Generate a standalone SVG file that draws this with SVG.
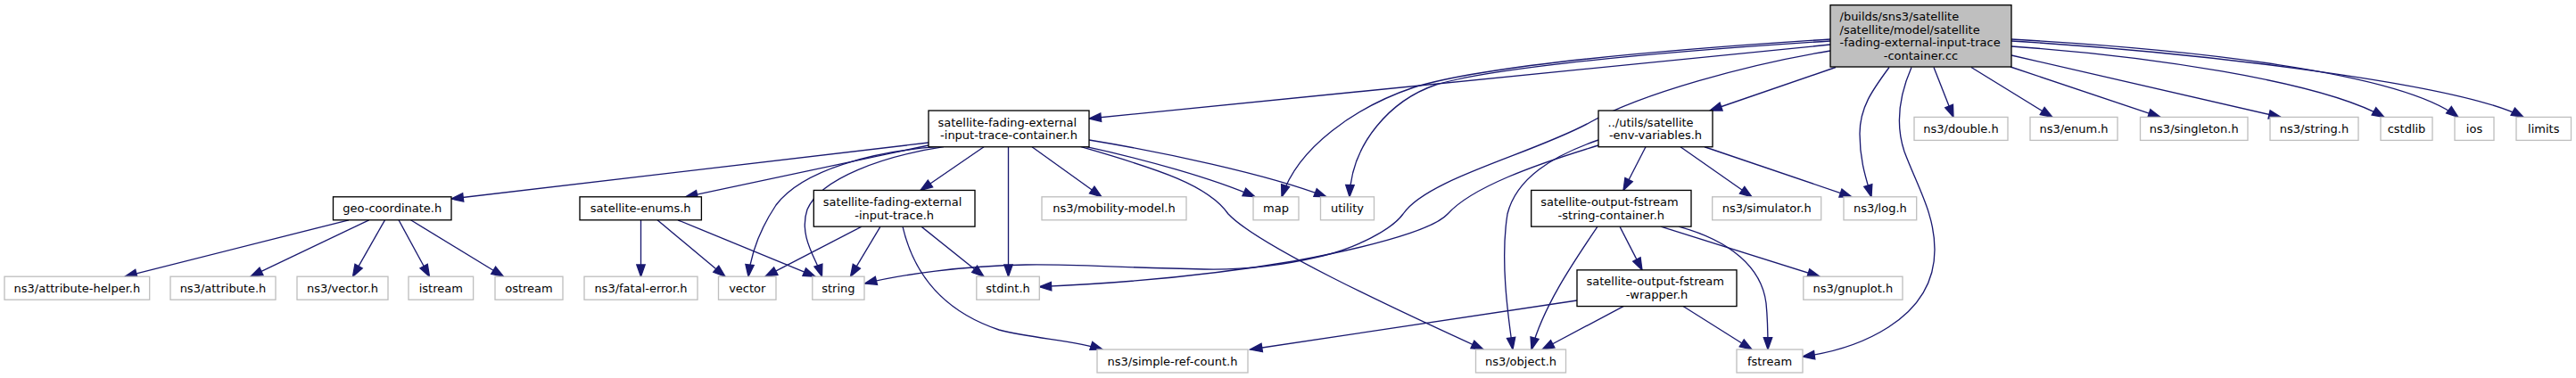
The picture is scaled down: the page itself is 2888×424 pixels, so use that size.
<svg xmlns="http://www.w3.org/2000/svg" width="2888" height="424" viewBox="0 0 2888 424">
<style>
rect{fill:#fff;stroke:#000;stroke-width:1.33}
.x rect{stroke:#bfbfbf}
.r rect{fill:#bfbfbf}
text{font-family:"DejaVu Sans","Liberation Sans",sans-serif;font-size:13px;fill:#000}
.m{text-anchor:middle}
#edges path{fill:none;stroke:#191970;stroke-width:1.33;marker-end:url(#a)}
</style>
<defs>
<marker id="a" markerUnits="userSpaceOnUse" markerWidth="16" markerHeight="12" refX="13.3" refY="0" viewBox="0 -6 16 12" orient="auto" overflow="visible">
<path d="M0,-4.7 L13.3,0 L0,4.7 z" fill="#191970" stroke="#191970" stroke-width="1.33"/>
</marker>
</defs>
<rect x="0" y="0" width="2888" height="424" style="fill:#fff;stroke:none"/>
<g id="edges">
<path d="M2052,50 L1221,133"/>
<path d="M2052,44 C1800,60 1650,78 1585,98 C1520,120 1455,165 1437,220.8"/>
<path d="M2052,46 C1800,62 1660,80 1610,95 C1560,112 1515,160 1513,220.8"/>
<path d="M2052,57 C1960,72 1840,105 1783,137 C1720,172 1600,200 1573,240 C1560,258 1520,278 1483,287 C1440,297 1400,303 1350,302 C1250,300 1200,296 1150,297 C1080,298 1010,308 969.5,318"/>
<path d="M2058,75.5 L1917,124"/>
<path d="M2118,75.5 C2100,100 2085,120 2085,150 C2085,180 2092,200 2098,220.8"/>
<path d="M2143,75.5 C2128,110 2125,140 2135,170 C2150,210 2169,240 2169,280 C2169,360 2080,392 2021,400"/>
<path d="M2168,75.5 L2190,131.4"/>
<path d="M2210,75.5 L2301,131.4"/>
<path d="M2254,75 L2422,131.4"/>
<path d="M2255,62 L2557,131.4"/>
<path d="M2255,52 C2400,62 2600,90 2673,131.4"/>
<path d="M2255,44 C2450,55 2690,80 2756,131.4"/>
<path d="M2255,46 C2480,60 2760,95 2829,131.4"/>
<path d="M1041,160 L506,223"/>
<path d="M1041,163 L768.5,220.8"/>
<path d="M1050,164.7 C980,170 900,190 870,230 C850,260 842,285 839,310.2"/>
<path d="M1058,164.7 C990,175 920,200 905,235 C895,265 915,290 921.5,310.2"/>
<path d="M1103,164.7 L1032,213.45"/>
<path d="M1130.5,164.7 L1130.5,310.2"/>
<path d="M1157,164.7 L1235,220.8"/>
<path d="M1218,164.7 C1280,178 1360,200 1407,220.8"/>
<path d="M1221,157 C1300,170 1420,195 1487,220.8"/>
<path d="M1212,164.7 C1300,190 1355,208 1377,240 C1410,275 1560,345 1663,392"/>
<path d="M966,254.15 L858,310.2"/>
<path d="M987,254.15 L953.5,310.2"/>
<path d="M1033,254.15 L1103,310.2"/>
<path d="M1012,254.15 C1025,310 1060,350 1120,370 C1160,380 1205,382 1236,392"/>
<path d="M718.5,246.8 L718.5,310.2"/>
<path d="M737,246.8 L813,310.2"/>
<path d="M760,246.8 L914,310.2"/>
<path d="M391,246.8 L140,310.2"/>
<path d="M413.7,246.8 L281,310.2"/>
<path d="M431.5,246.8 L395.5,310.2"/>
<path d="M447,246.8 L481.5,310.2"/>
<path d="M460.5,246.8 L564.5,310.2"/>
<path d="M1845,164.75 L1820,213.45"/>
<path d="M1884,164.75 L1964,220.8"/>
<path d="M1911,164.75 L2076,220.8"/>
<path d="M1792,157 C1740,175 1700,200 1690,240 C1682,290 1690,350 1696,392"/>
<path d="M1792,163 C1720,185 1650,210 1623,240 C1605,260 1520,280 1450,293 C1350,310 1250,318 1165.3,321.7"/>
<path d="M1816,254.15 L1841,302.85"/>
<path d="M1791,254.15 C1760,300 1730,345 1717,392"/>
<path d="M1862,254.15 L2040,310.2"/>
<path d="M1882,254.15 C1940,270 1975,300 1980,340 C1982,360 1982,375 1982,392"/>
<path d="M1768,337 L1401.6,392"/>
<path d="M1820,343.55 L1729,392"/>
<path d="M1887,343.55 L1964,392"/>
</g>
<g id="n_main" class="r"><rect x="2052" y="5.7" width="203" height="69.3"/>
<text x="2062.5" y="22.8">/builds/sns3/satellite</text><text x="2062.5" y="37.5">/satellite/model/satellite</text><text x="2062.5" y="52.2">-fading-external-input-trace</text><text class="m" x="2153.5" y="66.9">-container.cc</text></g>
<g id="n_container"><rect x="1041" y="124.05" width="180" height="40.7"/><text x="1051.5" y="141.55">satellite-fading-external</text><text class="m" x="1131" y="156.25">-input-trace-container.h</text></g>
<g id="n_envvars"><rect x="1792" y="124.05" width="128" height="40.7"/><text x="1802.5" y="141.55">../utils/satellite</text><text class="m" x="1856" y="156.25">-env-variables.h</text></g>
<g id="n_double" class="x"><rect x="2146" y="131.4" width="105" height="26"/><text class="m" x="2198.5" y="148.9">ns3/double.h</text></g>
<g id="n_enum" class="x"><rect x="2276" y="131.4" width="98" height="26"/><text class="m" x="2325" y="148.9">ns3/enum.h</text></g>
<g id="n_singleton" class="x"><rect x="2399.5" y="131.4" width="120.5" height="26"/><text class="m" x="2459.75" y="148.9">ns3/singleton.h</text></g>
<g id="n_nsstring" class="x"><rect x="2545" y="131.4" width="99" height="26"/><text class="m" x="2594.5" y="148.9">ns3/string.h</text></g>
<g id="n_cstdlib" class="x"><rect x="2669" y="131.4" width="58" height="26"/><text class="m" x="2698" y="148.9">cstdlib</text></g>
<g id="n_ios" class="x"><rect x="2752" y="131.4" width="44" height="26"/><text class="m" x="2774" y="148.9">ios</text></g>
<g id="n_limits" class="x"><rect x="2821" y="131.4" width="61.5" height="26"/><text class="m" x="2851.75" y="148.9">limits</text></g>
<g id="n_geo"><rect x="373.5" y="220.8" width="132.5" height="26"/><text class="m" x="439.75" y="238.3">geo-coordinate.h</text></g>
<g id="n_enums"><rect x="650" y="220.8" width="136.4" height="26"/><text class="m" x="718.2" y="238.3">satellite-enums.h</text></g>
<g id="n_trace"><rect x="912.3" y="213.45" width="180.7" height="40.7"/><text x="922.8" y="230.95">satellite-fading-external</text><text class="m" x="1002.65" y="245.65">-input-trace.h</text></g>
<g id="n_mobility" class="x"><rect x="1168" y="220.8" width="162" height="26"/><text class="m" x="1249" y="238.3">ns3/mobility-model.h</text></g>
<g id="n_map" class="x"><rect x="1405" y="220.8" width="51" height="26"/><text class="m" x="1430.5" y="238.3">map</text></g>
<g id="n_utility" class="x"><rect x="1480.5" y="220.8" width="60" height="26"/><text class="m" x="1510.5" y="238.3">utility</text></g>
<g id="n_strcont"><rect x="1716.7" y="213.45" width="179.3" height="40.7"/><text x="1727.2" y="230.95">satellite-output-fstream</text><text class="m" x="1806.35" y="245.65">-string-container.h</text></g>
<g id="n_simulator" class="x"><rect x="1919.7" y="220.8" width="122" height="26"/><text class="m" x="1980.7" y="238.3">ns3/simulator.h</text></g>
<g id="n_log" class="x"><rect x="2067" y="220.8" width="81.7" height="26"/><text class="m" x="2107.85" y="238.3">ns3/log.h</text></g>
<g id="n_attrhelper" class="x"><rect x="5" y="310.2" width="162.7" height="26"/><text class="m" x="86.35" y="327.7">ns3/attribute-helper.h</text></g>
<g id="n_attribute" class="x"><rect x="191" y="310.2" width="118" height="26"/><text class="m" x="250" y="327.7">ns3/attribute.h</text></g>
<g id="n_vectorh" class="x"><rect x="333" y="310.2" width="102" height="26"/><text class="m" x="384" y="327.7">ns3/vector.h</text></g>
<g id="n_istream" class="x"><rect x="458" y="310.2" width="72.6" height="26"/><text class="m" x="494.3" y="327.7">istream</text></g>
<g id="n_ostream" class="x"><rect x="555" y="310.2" width="76" height="26"/><text class="m" x="593" y="327.7">ostream</text></g>
<g id="n_fatal" class="x"><rect x="655" y="310.2" width="127" height="26"/><text class="m" x="718.5" y="327.7">ns3/fatal-error.h</text></g>
<g id="n_vector" class="x"><rect x="805.5" y="310.2" width="64.5" height="26"/><text class="m" x="837.75" y="327.7">vector</text></g>
<g id="n_string" class="x"><rect x="910.8" y="310.2" width="58.2" height="26"/><text class="m" x="939.9" y="327.7">string</text></g>
<g id="n_stdint" class="x"><rect x="1094.8" y="310.2" width="70.5" height="26"/><text class="m" x="1130.05" y="327.7">stdint.h</text></g>
<g id="n_wrapper"><rect x="1768" y="302.85" width="179" height="40.7"/><text x="1778.5" y="320.35">satellite-output-fstream</text><text class="m" x="1857.5" y="335.05">-wrapper.h</text></g>
<g id="n_gnuplot" class="x"><rect x="2021.8" y="310.2" width="111.2" height="26"/><text class="m" x="2077.4" y="327.7">ns3/gnuplot.h</text></g>
<g id="n_refcount" class="x"><rect x="1230" y="392" width="169" height="26"/><text class="m" x="1314.5" y="409.5">ns3/simple-ref-count.h</text></g>
<g id="n_object" class="x"><rect x="1654.5" y="392" width="101" height="26"/><text class="m" x="1705" y="409.5">ns3/object.h</text></g>
<g id="n_fstream" class="x"><rect x="1947" y="392" width="74" height="26"/><text class="m" x="1984" y="409.5">fstream</text></g>
</svg>
